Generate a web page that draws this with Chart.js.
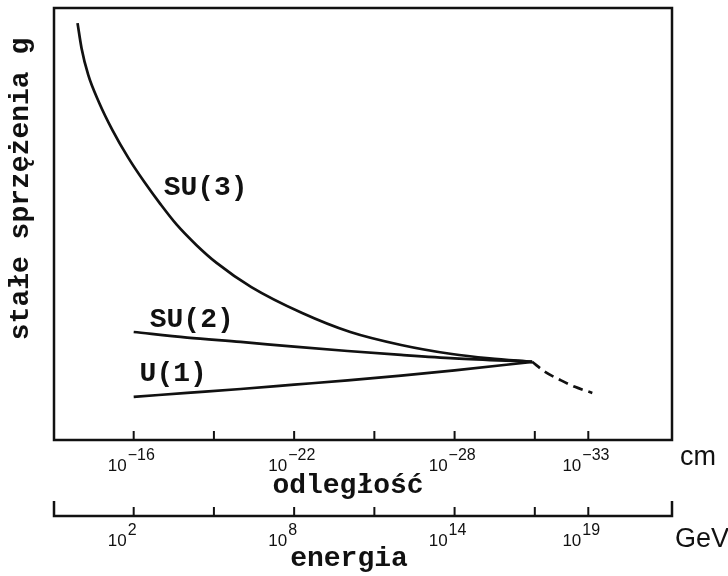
<!DOCTYPE html>
<html>
<head>
<meta charset="utf-8">
<script src="https://cdn.jsdelivr.net/npm/chart.js@4.4.1/dist/chart.umd.min.js"></script>
<style>
  html, body { margin: 0; padding: 0; background: #fff; }
  #wrap { width: 728px; height: 576px; }
</style>
</head>
<body>
<div id="wrap"><canvas id="chart" width="728" height="576"></canvas></div>
<script>
// x = log10(E / GeV), y = stała sprzężenia (jednostki umowne)
const su3X = [-0.1, 0.05, 0.3, 0.7, 1.2, 1.8, 2.4, 3, 3.6, 4.35, 5.1, 6.4, 8.3, 10.1, 12, 13.9, 15.3, 16.9];
const su3Y = [96.5, 90.7, 84.5, 78.2, 71.8, 65.3, 59.7, 54.6, 49.9, 45.1, 41.0, 35.4, 29.4, 25.0, 22.0, 19.9, 18.9, 18.1];

const su2X = [2, 4, 6, 8, 10, 12, 14, 16.9];
const su2Y = [25.0, 23.7, 22.7, 21.6, 20.6, 19.7, 18.9, 18.1];

const u1X = [2, 4, 6, 8, 10, 12, 14, 16.9];
const u1Y = [10.0, 10.9, 11.8, 12.8, 13.8, 14.9, 16.1, 18.1];

// wspólna linia powyżej punktu unifikacji (przerywana)
const gutX = [16.9, 17.4, 17.95, 18.5, 19.15];
const gutY = [18.1, 15.7, 13.9, 12.3, 10.9];

const tickVals = [2, 5, 8, 11, 14, 17, 19];
const labelVals = [2, 8, 14, 19];
const distExp = ['\u221216', '\u221222', '\u221228', '\u221233'];
const energyExp = ['2', '8', '14', '19'];

const curveLabels = ['SU(3)', 'SU(2)', 'U(1)'];
const curveLabelAt = [[3.12, 56.7], [2.6, 26.2], [2.22, 13.7]];

const INK = '#111';
const MONO = 'bold 28px "Liberation Mono", "Courier New", monospace';
const SANS = '"Liberation Sans", Arial, sans-serif';

function pts(xs, ys) {
    return xs.map((x, i) => ({ x: x, y: ys[i] }));
}

function drawPow(ctx, px, base, exp) {
    ctx.textAlign = 'right';
    ctx.font = '17px ' + SANS;
    ctx.fillText('10', px - 7, base);
    ctx.textAlign = 'left';
    ctx.font = '16px ' + SANS;
    ctx.fillText(exp, px - 6, base - 11);
}

const decorPlugin = {
    id: 'decor',
    beforeDraw(chart) {
        const ctx = chart.ctx;
        ctx.save();
        ctx.fillStyle = '#fff';
        ctx.fillRect(0, 0, chart.width, chart.height);
        ctx.restore();
    },
    afterDraw(chart) {
        const ctx = chart.ctx;
        const a = chart.chartArea;
        const xs = chart.scales.x;
        const ys = chart.scales.y;
        ctx.save();
        ctx.strokeStyle = INK;
        ctx.fillStyle = INK;
        ctx.lineWidth = 2.5;

        // ramka wykresu
        ctx.strokeRect(a.left, a.top, a.right - a.left, a.bottom - a.top);

        // znaczniki osi odległości (do wewnątrz)
        ctx.lineWidth = 2;
        tickVals.forEach(v => {
            const px = xs.getPixelForValue(v);
            ctx.beginPath();
            ctx.moveTo(px, a.bottom);
            ctx.lineTo(px, a.bottom - 9);
            ctx.stroke();
        });

        // oś energii
        const ey = 516;
        ctx.lineWidth = 2.5;
        ctx.beginPath();
        ctx.moveTo(a.left, ey - 15);
        ctx.lineTo(a.left, ey);
        ctx.lineTo(a.right, ey);
        ctx.lineTo(a.right, ey - 15);
        ctx.stroke();
        ctx.lineWidth = 2;
        tickVals.forEach(v => {
            const px = xs.getPixelForValue(v);
            ctx.beginPath();
            ctx.moveTo(px, ey);
            ctx.lineTo(px, ey - 9);
            ctx.stroke();
        });

        // podpisy znaczników
        ctx.textBaseline = 'alphabetic';
        labelVals.forEach((v, i) => {
            const px = xs.getPixelForValue(v);
            drawPow(ctx, px, 471, distExp[i]);
            drawPow(ctx, px, 546, energyExp[i]);
        });

        // jednostki
        ctx.font = '27px ' + SANS;
        ctx.textAlign = 'left';
        ctx.fillText('cm', 680, 465);
        ctx.fillText('GeV', 675, 547);

        // tytuły osi
        ctx.font = MONO;
        ctx.textAlign = 'center';
        ctx.fillText('odległość', 348, 493);
        ctx.fillText('energia', 349, 566);

        ctx.save();
        ctx.translate(28, 189);
        ctx.rotate(-Math.PI / 2);
        ctx.fillText('stałe sprzężenia g', 0, 0);
        ctx.restore();

        // podpisy krzywych
        ctx.textAlign = 'left';
        curveLabels.forEach((t, i) => {
            const p = curveLabelAt[i];
            ctx.fillText(t, xs.getPixelForValue(p[0]), ys.getPixelForValue(p[1]));
        });

        ctx.restore();
    }
};

const lineStyle = {
    borderColor: INK,
    borderWidth: 2.7,
    pointRadius: 0,
    fill: false,
    cubicInterpolationMode: 'monotone'
};

new Chart(document.getElementById('chart'), {
    type: 'line',
    data: {
        datasets: [
            Object.assign({ label: 'SU(3)', data: pts(su3X, su3Y) }, lineStyle),
            Object.assign({ label: 'SU(2)', data: pts(su2X, su2Y) }, lineStyle),
            Object.assign({ label: 'U(1)', data: pts(u1X, u1Y) }, lineStyle),
            Object.assign({ label: 'GUT', data: pts(gutX, gutY), borderDash: [10, 6] }, lineStyle)
        ]
    },
    options: {
        responsive: false,
        animation: false,
        layout: { padding: { left: 54, right: 56, top: 8, bottom: 136 } },
        plugins: { legend: { display: false }, tooltip: { enabled: false } },
        scales: {
            x: { type: 'linear', min: -0.98, max: 22.13, display: false },
            y: { type: 'linear', min: 0, max: 100, display: false }
        }
    },
    plugins: [decorPlugin]
});
</script>
</body>
</html>
